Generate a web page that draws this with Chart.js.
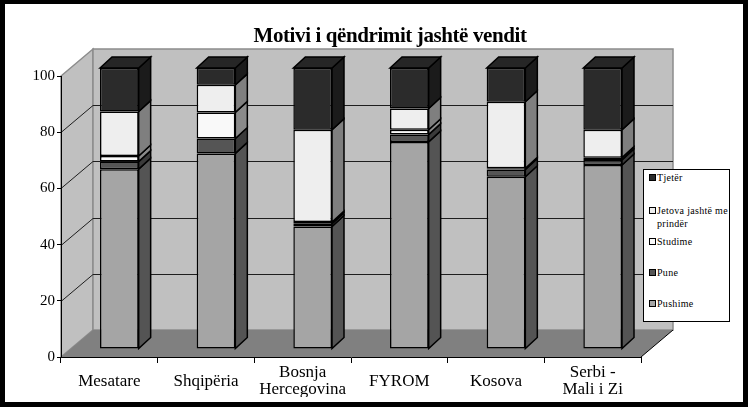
<!DOCTYPE html>
<html><head><meta charset="utf-8">
<script src="https://cdn.jsdelivr.net/npm/chart.js@4/dist/chart.umd.min.js"></script>
<style>
html,body{margin:0;padding:0;background:#fff;}
#wrap{position:relative;width:748px;height:407px;overflow:hidden;background:#fff;}
#c{position:absolute;left:0;top:0;}
#frame{position:absolute;left:0;top:0;width:748px;height:407px;box-sizing:border-box;border:solid #000;border-width:4px 5px 5px 5px;pointer-events:none;}
#title{position:absolute;left:0;width:780px;top:23px;line-height:24px;text-align:center;font:bold 21px "Liberation Serif",serif;letter-spacing:-0.4px;color:#000;white-space:nowrap;}
#legend{position:absolute;left:643px;top:169px;width:87px;height:153px;box-sizing:border-box;border:1px solid #000;background:#fff;font:10px "Liberation Serif",serif;color:#000;}
.li{position:absolute;left:5px;width:80px;line-height:13px;}
.mk{position:absolute;left:0;top:3px;width:5px;height:5px;border:1px solid #000;}
.tx{position:absolute;left:8px;width:72px;letter-spacing:0.3px;}
</style></head>
<body>
<div id="wrap">
  <canvas id="c" width="748" height="407"></canvas>
  <div id="title">Motivi i qëndrimit jashtë vendit</div>
  <div id="legend"></div>
  <div id="frame"></div>
</div>
<script>
// ---- data ----
const categories = ['Mesatare', 'Shqipëria', ['Bosnja', 'Hercegovina'], 'FYROM', 'Kosova', ['Serbi -', 'Mali i Zi']];
const seriesNames = ['Pushime', 'Pune', 'Studime', 'Jetova jashtë me prindër', 'Tjetër'];
const pushime = [64.0, 69.6, 43.6, 73.7, 61.3, 65.5];
const pune    = [2.7, 5.3, 1.0, 2.6, 2.6, 1.8];
const studime = [2.0, 9.3, 0.6, 1.7, 0.4, 0.8];
const jetova  = [15.8, 9.8, 32.8, 7.6, 23.7, 9.9];
const tjeter  = [15.5, 6.0, 22.0, 14.4, 12.0, 22.0];
const yTicks = [0, 20, 40, 60, 80, 100];

// ---- styles ----
const frontColors = ['#a5a5a5', '#555555', '#f9f9f9', '#eeeeee', '#2b2b2b'];
const sideColors  = ['#545454', '#3a3a3a', '#8a8a8a', '#7f7f7f', '#1b1b1b'];
const topColor = '#262626';
const WALL_DX = 32, WALL_DY = -27;
const BAR_DX = 10, BAR_DY = -8;
const BAR_SX = 12, BAR_SY = -11;

const seriesValues = [pushime, pune, studime, jetova, tjeter];

function poly(ctx, pts) {
  ctx.beginPath();
  ctx.moveTo(pts[0][0], pts[0][1]);
  for (let i = 1; i < pts.length; i++) ctx.lineTo(pts[i][0], pts[i][1]);
  ctx.closePath();
}

const threeD = {
  id: 'threeD',
  beforeDraw(chart) {
    const ctx = chart.ctx, a = chart.chartArea, y = chart.scales.y;
    ctx.save();
    // side wall
    poly(ctx, [[a.left, a.top], [a.left + WALL_DX, a.top + WALL_DY], [a.left + WALL_DX, a.bottom + WALL_DY], [a.left, a.bottom]]);
    ctx.fillStyle = '#c0c0c0'; ctx.fill();
    ctx.strokeStyle = '#8c8c8c'; ctx.lineWidth = 1.5; ctx.stroke();
    // back wall
    poly(ctx, [[a.left + WALL_DX, a.top + WALL_DY], [a.right + WALL_DX, a.top + WALL_DY], [a.right + WALL_DX, a.bottom + WALL_DY], [a.left + WALL_DX, a.bottom + WALL_DY]]);
    ctx.fillStyle = '#c0c0c0'; ctx.fill();
    ctx.strokeStyle = '#8c8c8c'; ctx.stroke();
    // floor
    poly(ctx, [[a.left, a.bottom], [a.left + WALL_DX, a.bottom + WALL_DY], [a.right + WALL_DX, a.bottom + WALL_DY], [a.right, a.bottom]]);
    ctx.fillStyle = '#808080'; ctx.fill();
    ctx.beginPath();
    ctx.moveTo(a.right, a.bottom); ctx.lineTo(a.right + WALL_DX, a.bottom + WALL_DY);
    ctx.strokeStyle = '#000'; ctx.lineWidth = 1; ctx.stroke();
    // gridlines
    ctx.strokeStyle = '#1e1e1e'; ctx.lineWidth = 1;
    y.ticks.forEach(t => {
      if (t.value <= y.min || t.value >= y.max) return;
      const py = Math.round(y.getPixelForValue(t.value)) + 0.5;
      ctx.beginPath();
      ctx.moveTo(a.left, py);
      ctx.lineTo(a.left + WALL_DX, py + WALL_DY);
      ctx.lineTo(a.right + WALL_DX, py + WALL_DY);
      ctx.stroke();
    });
    ctx.restore();
  },
  beforeDatasetsDraw(chart) {
    chart.ctx.save();
    chart.ctx.translate(BAR_DX, BAR_DY);
  },
  afterDatasetsDraw(chart) {
    const ctx = chart.ctx;
    const n = chart.data.datasets.length;
    ctx.lineWidth = 1.5;
    ctx.strokeStyle = '#000';
    ctx.lineJoin = 'miter';
    for (let d = 0; d < n; d++) {
      const meta = chart.getDatasetMeta(d);
      meta.data.forEach(el => {
        const p = el.getProps(['x', 'y', 'base', 'width'], true);
        const top = Math.min(p.y, p.base), bot = Math.max(p.y, p.base);
        const right = p.x + p.width / 2, left = p.x - p.width / 2;
        poly(ctx, [[right, top], [right + BAR_SX, top + BAR_SY], [right + BAR_SX, bot + BAR_SY], [right, bot]]);
        ctx.fillStyle = sideColors[d]; ctx.fill(); ctx.stroke();
        if (d === n - 1) {
          poly(ctx, [[left, top], [left + BAR_SX, top + BAR_SY], [right + BAR_SX, top + BAR_SY], [right, top]]);
          ctx.fillStyle = topColor; ctx.fill(); ctx.stroke();
        }
      });
    }
    ctx.restore();
  }
};

const datasets = seriesNames.map((name, i) => ({
  label: name,
  data: seriesValues[i],
  backgroundColor: frontColors[i],
  borderColor: '#000',
  borderWidth: 1.5,
  borderSkipped: false,
  clip: false,
  categoryPercentage: 0.4,
  barPercentage: 1.0
}));

new Chart(document.getElementById('c'), {
  type: 'bar',
  data: { labels: categories, datasets },
  plugins: [threeD],
  options: {
    responsive: false,
    animation: false,
    devicePixelRatio: 1,
    layout: { padding: { left: 0, right: 107, top: 76, bottom: 10 } },
    plugins: { legend: { display: false }, title: { display: false }, tooltip: { enabled: false } },
    scales: {
      x: {
        stacked: true,
        grid: { offset: true, drawOnChartArea: false, drawTicks: true, tickLength: 6, color: '#000', lineWidth: 1 },
        border: { display: true, color: '#000', width: 1 },
        ticks: { color: '#000', font: { family: 'Liberation Serif', size: 17, lineHeight: 1.0 }, padding: 10, crossAlign: 'center', maxRotation: 0, autoSkip: false },
        afterFit(s) { s.height = 40; }
      },
      y: {
        stacked: true,
        min: 0, max: 100,
        afterBuildTicks(s) { s.ticks = yTicks.map(v => ({ value: v })); },
        grid: { drawOnChartArea: false, drawTicks: true, tickLength: 4, color: '#000', lineWidth: 1 },
        border: { display: true, color: '#000', width: 1 },
        ticks: { color: '#000', font: { family: 'Liberation Serif', size: 15 }, padding: 2 },
        afterFit(s) { s.width = 61; }
      }
    }
  }
});

// legend (HTML) built from series names, top entry = last series
const legendTops = [133, 102, 71, 40, 7];
const lg = document.getElementById('legend');
seriesNames.forEach((name, i) => {
  const it = document.createElement('div');
  it.className = 'li';
  it.style.top = (legendTops[i] - 6) + 'px';
  const mk = document.createElement('div');
  mk.className = 'mk';
  mk.style.background = frontColors[i];
  const tx = document.createElement('div');
  tx.className = 'tx';
  tx.textContent = name;
  it.appendChild(mk); it.appendChild(tx);
  lg.appendChild(it);
});
</script>
</body></html>
